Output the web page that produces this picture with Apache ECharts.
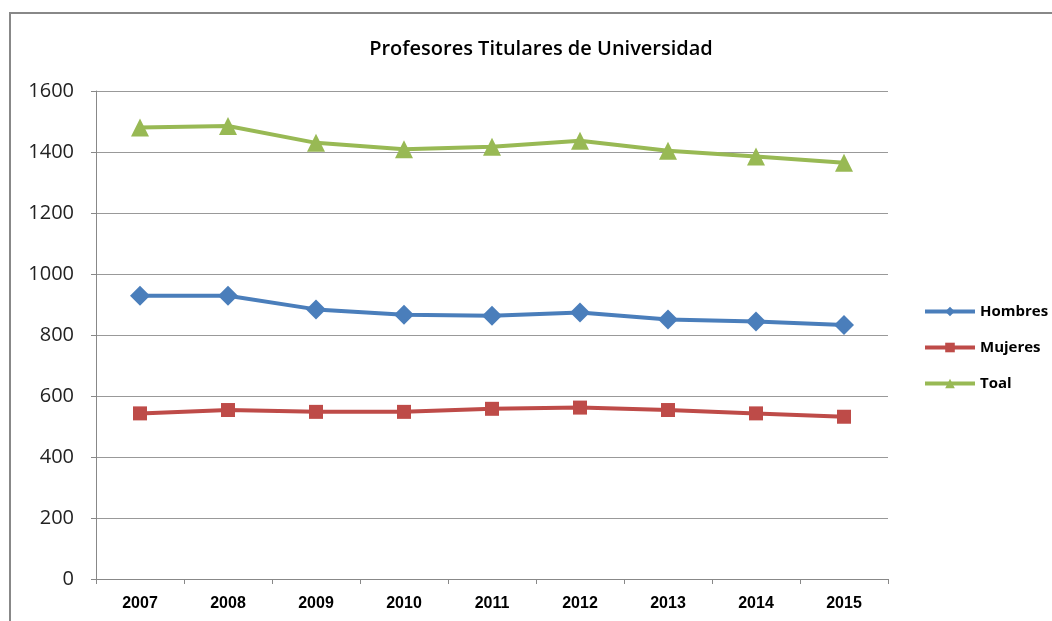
<!DOCTYPE html>
<html>
<head>
<meta charset="utf-8">
<script src="https://cdn.jsdelivr.net/npm/echarts@6/dist/echarts.min.js"></script>
<style>
  html, body { margin: 0; padding: 0; background: #fff; }
  #main { width: 1052px; height: 621px; }
</style>
</head>
<body>
<div id="main"></div>
<script>
var years = ['2007', '2008', '2009', '2010', '2011', '2012', '2013', '2014', '2015'];
var hombres = [929, 929, 884, 866, 863, 874, 851, 844, 833];
var mujeres = [543, 554, 548, 548, 558, 562, 554, 543, 532];
var toal = [1480, 1485, 1430, 1409, 1417, 1437, 1404, 1385, 1365];

var myChart = echarts.init(document.getElementById('main'));

var option = {
    backgroundColor: '#fff',
    animation: false,
    title: {
        text: 'Profesores Titulares de Universidad',
        left: 536,
        textAlign: 'center',
        top: 34,
        textStyle: {
            fontFamily: 'Open Sans',
            fontSize: 20,
            fontWeight: 600,
            color: '#000'
        }
    },
    graphic: [{
        type: 'rect',
        shape: { x: 10, y: 13, width: 1100, height: 700 },
        style: { fill: 'none', stroke: '#888', lineWidth: 2 },
        silent: true
    }],
    legend: {
        orient: 'vertical',
        left: 918,
        top: 299,
        itemWidth: 50,
        itemHeight: 12,
        itemGap: 21,
        itemStyle: {},
        lineStyle: { width: 4 },
        textStyle: {
            fontFamily: 'Open Sans',
            fontSize: 15,
            fontWeight: 'bold',
            color: '#000'
        },
        data: ['Hombres', 'Mujeres', 'Toal']
    },
    grid: {
        left: 96,
        right: 164,
        top: 91,
        bottom: 42
    },
    xAxis: {
        type: 'category',
        data: years,
        boundaryGap: true,
        axisLine: { lineStyle: { color: '#888', width: 1 } },
        axisTick: { show: true, length: 5, inside: false, lineStyle: { color: '#888' } },
        axisLabel: {
            margin: 17,
            fontFamily: 'Liberation Sans',
            fontSize: 16,
            fontWeight: 'bold',
            color: '#000'
        }
    },
    yAxis: {
        type: 'value',
        min: 0,
        max: 1600,
        interval: 200,
        axisLine: { show: true, lineStyle: { color: '#888', width: 1 } },
        axisTick: { show: true, length: 5, lineStyle: { color: '#888' } },
        axisLabel: {
            margin: 22,
            fontFamily: 'Open Sans',
            fontSize: 20,
            color: '#222',
            formatter: function (v) { return String(v); }
        },
        splitLine: { lineStyle: { color: '#999', width: 1 } }
    },
    series: [{
        name: 'Hombres',
        type: 'line',
        data: hombres,
        symbol: 'diamond',
        symbolSize: 20,
        color: '#4a7ebb',
        lineStyle: { width: 4, color: '#4a7ebb' },
        itemStyle: { color: '#4a7ebb' }
    }, {
        name: 'Mujeres',
        type: 'line',
        data: mujeres,
        symbol: 'rect',
        symbolSize: 14,
        color: '#be4b48',
        lineStyle: { width: 4, color: '#be4b48' },
        itemStyle: { color: '#be4b48' }
    }, {
        name: 'Toal',
        type: 'line',
        data: toal,
        symbol: 'triangle',
        symbolSize: 18,
        color: '#98b954',
        lineStyle: { width: 4, color: '#98b954' },
        itemStyle: { color: '#98b954' }
    }]
};

myChart.setOption(option);
</script>
</body>
</html>
